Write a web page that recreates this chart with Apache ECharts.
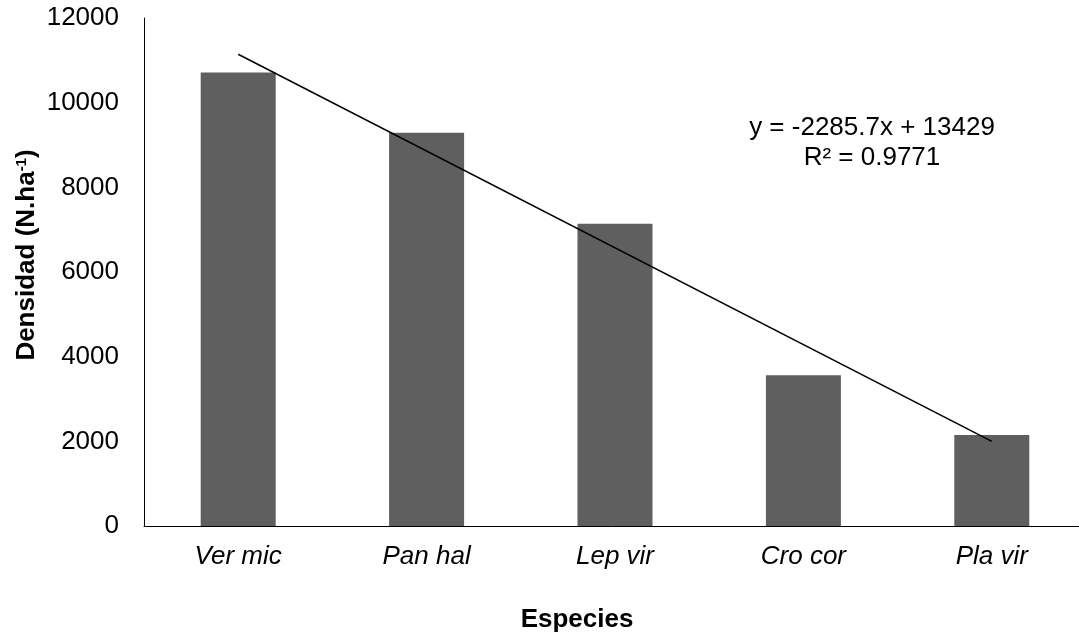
<!DOCTYPE html>
<html>
<head>
<meta charset="utf-8">
<script src="https://cdn.jsdelivr.net/npm/echarts@6/dist/echarts.min.js"></script>
<style>
  html, body { margin: 0; padding: 0; background: #ffffff; }
  #chart { width: 1079px; height: 634px; }
</style>
</head>
<body>
<div id="chart"></div>
<script>
// Species and their density (individuals per hectare)
const species = ['Ver mic', 'Pan hal', 'Lep vir', 'Cro cor', 'Pla vir'];
const density = [10710, 9290, 7140, 3560, 2150];

// Linear trend fitted over species rank (1..5)
const trendSlope = -2285.7;
const trendIntercept = 13429;
const trendR2 = 0.9771;

const yTicks = { min: 0, max: 12000, interval: 2000 };

// Trend line drawn between the first and last category
const trendData = species.map((s, i) =>
  (i === 0 || i === species.length - 1) ? trendSlope * (i + 1) + trendIntercept : '-'
);

const FONT = '"Liberation Sans", Arial, Helvetica, sans-serif';

const chart = echarts.init(document.getElementById('chart'), null, { renderer: 'canvas' });

chart.setOption({
  backgroundColor: '#ffffff',
  animation: false,
  grid: {
    left: 144, top: 18, right: -7, bottom: 108,
    containLabel: false,
    outerBoundsMode: 'none'
  },
  xAxis: {
    type: 'category',
    data: species,
    axisLine: { show: true, lineStyle: { color: '#000000', width: 1 } },
    axisTick: { show: false },
    axisLabel: {
      color: '#000000',
      fontFamily: FONT,
      fontSize: 26,
      fontStyle: 'italic',
      margin: 18
    },
    splitLine: { show: false }
  },
  yAxis: {
    type: 'value',
    min: yTicks.min,
    max: yTicks.max,
    interval: yTicks.interval,
    axisLine: { show: true, lineStyle: { color: '#000000', width: 1 } },
    axisTick: { show: false },
    axisLabel: {
      color: '#000000',
      fontFamily: FONT,
      fontSize: 26,
      margin: 25,
      formatter: (v) => String(v)
    },
    splitLine: { show: false }
  },
  series: [
    {
      type: 'bar',
      data: density,
      barWidth: 75,
      itemStyle: { color: '#5f5f5f' },
      z: 2
    },
    {
      type: 'line',
      data: trendData,
      connectNulls: true,
      symbol: 'none',
      lineStyle: { color: '#000000', width: 1.5 },
      z: 3
    }
  ],
  graphic: [
    {
      type: 'text',
      x: 872, y: 128,
      style: {
        text: 'y = ' + trendSlope.toFixed(1) + 'x + ' + trendIntercept,
        fontFamily: FONT, fontSize: 26, fill: '#000000',
        textAlign: 'center', textVerticalAlign: 'middle'
      }
    },
    {
      type: 'text',
      x: 872, y: 158,
      style: {
        text: 'R² = ' + trendR2,
        fontFamily: FONT, fontSize: 26, fill: '#000000',
        textAlign: 'center', textVerticalAlign: 'middle'
      }
    },
    {
      type: 'text',
      x: 577, y: 620,
      style: {
        text: 'Especies',
        fontFamily: FONT, fontSize: 26, fontWeight: 'bold', fill: '#000000',
        textAlign: 'center', textVerticalAlign: 'middle'
      }
    },
    {
      type: 'text',
      x: 27, y: 255,
      rotation: Math.PI / 2,
      style: {
        text: '{t|Densidad (N.ha}{s|-1}{t|)}',
        fontFamily: FONT, fill: '#000000',
        textAlign: 'center', textVerticalAlign: 'middle',
        rich: {
          t: { fontFamily: FONT, fontSize: 26, fontWeight: 'bold', fill: '#000000' },
          s: { fontFamily: FONT, fontSize: 15, fontWeight: 'bold', fill: '#000000', padding: [0, 0, 11, 0] }
        }
      }
    }
  ]
});
</script>
</body>
</html>
